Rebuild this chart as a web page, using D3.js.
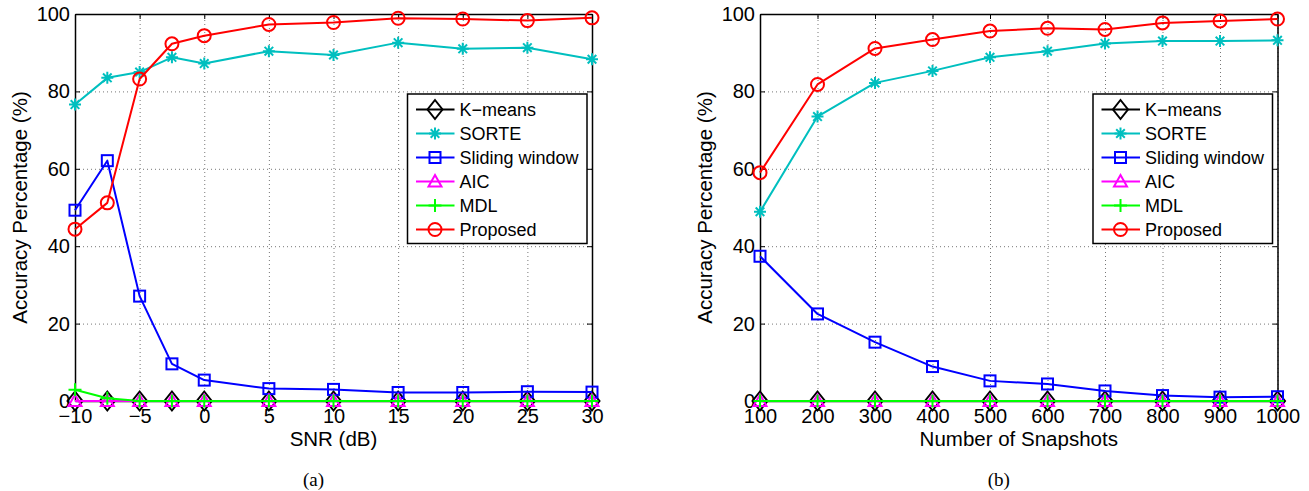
<!DOCTYPE html>
<html>
<head>
<meta charset="utf-8">
<script src="https://cdn.jsdelivr.net/npm/d3@7"></script>
<style>
  html, body { margin: 0; padding: 0; background: #fff; }
  svg { display: block; }
  text { font-family: "Liberation Sans", Arial, Helvetica, sans-serif; fill: #000; }
</style>
</head>
<body>
<svg id="chart" width="1309" height="491"></svg>
<script>
// ---- data ----
const methods = ["K\u2212means", "SORTE", "Sliding window", "AIC", "MDL", "Proposed"];

// (a) accuracy vs SNR
const snrValues = [-10, -7.5, -5, -2.5, 0, 5, 10, 15, 20, 25, 30];
const snrTicks = [-10, -5, 0, 5, 10, 15, 20, 25, 30];
const kmeansSnr   = [0, 0, 0, 0, 0, 0, 0, 0, 0, 0, 0];
const sorteSnr    = [76.6, 83.5, 85.0, 88.8, 87.2, 90.4, 89.4, 92.6, 91.0, 91.3, 88.3];
const slidingSnr  = [49.3, 62.1, 27.1, 9.6, 5.4, 3.2, 3.0, 2.2, 2.2, 2.4, 2.3];
const aicSnr      = [0, 0, 0, 0, 0, 0, 0, 0, 0, 0, 0];
const mdlSnr      = [2.9, 0.7, 0, 0, 0, 0, 0, 0, 0, 0, 0];
const proposedSnr = [44.4, 51.2, 83.2, 92.3, 94.4, 97.3, 97.8, 98.9, 98.7, 98.3, 99.0];

// (b) accuracy vs number of snapshots
const snapshotValues = [100, 200, 300, 400, 500, 600, 700, 800, 900, 1000];
const snapshotTicks = [100, 200, 300, 400, 500, 600, 700, 800, 900, 1000];
const kmeansSnap   = [0, 0, 0, 0, 0, 0, 0, 0, 0, 0];
const sorteSnap    = [48.9, 73.5, 82.2, 85.3, 88.8, 90.4, 92.4, 93.0, 93.0, 93.2];
const slidingSnap  = [37.4, 22.5, 15.2, 8.9, 5.2, 4.4, 2.6, 1.4, 1.0, 1.1];
const aicSnap      = [0, 0, 0, 0, 0, 0, 0, 0, 0, 0];
const mdlSnap      = [0, 0, 0, 0, 0, 0, 0, 0, 0, 0];
const proposedSnap = [59.0, 81.8, 91.1, 93.4, 95.6, 96.3, 96.0, 97.7, 98.2, 98.7];

const yTicks = [0, 20, 40, 60, 80, 100];

// ---- styling ----
const colors = ["#000000", "#00bfbf", "#0000ff", "#ff00ff", "#00ff00", "#ff0000"];
const markers = ["diamond", "asterisk", "square", "triangle", "plus", "circle"];

const svg = d3.select("#chart");
const fmtTick = d => d < 0 ? "\u2212" + Math.abs(d) : String(d);

function drawMarker(g, type, color) {
  let el;
  if (type === "diamond") {
    el = g.append("path").attr("d", "M0,-9.5L7.5,0L0,9.5L-7.5,0Z");
  } else if (type === "asterisk") {
    el = g.append("path").attr("d", "M0,-6V6M-6,0H6M-4.3,-4.3L4.3,4.3M-4.3,4.3L4.3,-4.3");
  } else if (type === "square") {
    el = g.append("rect").attr("x", -5.5).attr("y", -5.5).attr("width", 11).attr("height", 11);
  } else if (type === "triangle") {
    el = g.append("path").attr("d", "M0,-6.5L6.5,5L-6.5,5Z");
  } else if (type === "plus") {
    el = g.append("path").attr("d", "M0,-6.5V6.5M-6.5,0H6.5");
  } else {
    el = g.append("circle").attr("r", 6.5);
  }
  el.attr("fill", "none").attr("stroke", color).attr("stroke-width", 2);
}

function panel(opts) {
  const { x0, x1, xDomain, xs, xTicks, series, xLabel, caption } = opts;
  const yTop = 14, yBot = 401;
  const x = d3.scaleLinear().domain(xDomain).range([x0, x1]);
  const y = d3.scaleLinear().domain([0, 100]).range([yBot, yTop]);
  const g = svg.append("g");

  // dotted grid
  const grid = g.append("g").attr("class", "grid");
  grid.append("g").attr("transform", `translate(0,${yBot})`)
    .call(d3.axisBottom(x).tickValues(xTicks).tickSize(-(yBot - yTop)).tickFormat(""));
  grid.append("g").attr("transform", `translate(${x0},0)`)
    .call(d3.axisLeft(y).tickValues(yTicks).tickSize(-(x1 - x0)).tickFormat(""));
  grid.selectAll(".domain").remove();
  grid.selectAll("line").attr("stroke", "#777").attr("stroke-width", 1).attr("stroke-dasharray", "1,3");

  // axes with inward ticks on all four sides
  const axB = g.append("g").attr("transform", `translate(0,${yBot})`)
    .call(d3.axisBottom(x).tickValues(xTicks).tickSizeInner(-5).tickSizeOuter(0).tickPadding(8).tickFormat(fmtTick));
  const axT = g.append("g").attr("transform", `translate(0,${yTop})`)
    .call(d3.axisTop(x).tickValues(xTicks).tickSizeInner(-5).tickSizeOuter(0).tickFormat(""));
  const axL = g.append("g").attr("transform", `translate(${x0},0)`)
    .call(d3.axisLeft(y).tickValues(yTicks).tickSizeInner(-5).tickSizeOuter(0).tickPadding(5).tickFormat(fmtTick));
  const axR = g.append("g").attr("transform", `translate(${x1},0)`)
    .call(d3.axisRight(y).tickValues(yTicks).tickSizeInner(-5).tickSizeOuter(0).tickFormat(""));
  [axB, axT, axL, axR].forEach(a => {
    a.selectAll(".domain").attr("stroke", "#000").attr("stroke-width", 1.5);
    a.selectAll(".tick line").attr("stroke", "#000").attr("stroke-width", 1);
    a.selectAll("text").attr("font-size", 20).attr("font-family", "Liberation Sans, Arial, sans-serif");
  });

  // series lines and markers
  const line = d3.line().x((d, i) => x(xs[i])).y(d => y(d));
  series.forEach((vals, k) => {
    const sg = g.append("g");
    sg.append("path").datum(vals).attr("d", line)
      .attr("fill", "none").attr("stroke", colors[k]).attr("stroke-width", 2).attr("stroke-linejoin", "round");
    vals.forEach((v, i) => {
      const mg = sg.append("g").attr("transform", `translate(${x(xs[i])},${y(v)})`);
      drawMarker(mg, markers[k], colors[k]);
    });
  });

  // legend
  const lw = 179.5, lh = 149.5;
  const lx = x1 - 5 - lw, ly = 94;
  const lg = g.append("g").attr("transform", `translate(${lx},${ly})`);
  lg.append("rect").attr("width", lw).attr("height", lh)
    .attr("fill", "#fff").attr("stroke", "#000").attr("stroke-width", 1.5);
  methods.forEach((name, k) => {
    const cy = 15.5 + k * 24;
    lg.append("line").attr("x1", 8.5).attr("x2", 47).attr("y1", cy).attr("y2", cy)
      .attr("stroke", colors[k]).attr("stroke-width", 2);
    const mg = lg.append("g").attr("transform", `translate(27.5,${cy})`);
    drawMarker(mg, markers[k], colors[k]);
    lg.append("text").attr("x", 52).attr("y", cy).attr("dy", "0.35em")
      .attr("font-size", 18).text(name);
  });

  // axis titles
  const cx = (x0 + x1) / 2;
  g.append("text").attr("x", cx).attr("y", 446).attr("text-anchor", "middle")
    .attr("font-size", 20.5).text(xLabel);
  g.append("text").attr("transform", `translate(${x0 - 48},${(yTop + yBot) / 2}) rotate(-90)`)
    .attr("text-anchor", "middle").attr("font-size", 20.5).text("Accuracy Percentage (%)");
  g.append("text").attr("x", cx - 20).attr("y", 486).attr("text-anchor", "middle")
    .attr("font-size", 19).style("font-family", "Liberation Serif, Times New Roman, serif").text(caption);
}

panel({
  x0: 75, x1: 592, xDomain: [-10, 30], xs: snrValues, xTicks: snrTicks,
  series: [kmeansSnr, sorteSnr, slidingSnr, aicSnr, mdlSnr, proposedSnr],
  xLabel: "SNR (dB)", caption: "(a)"
});
panel({
  x0: 760, x1: 1277.5, xDomain: [100, 1000], xs: snapshotValues, xTicks: snapshotTicks,
  series: [kmeansSnap, sorteSnap, slidingSnap, aicSnap, mdlSnap, proposedSnap],
  xLabel: "Number of Snapshots", caption: "(b)"
});
</script>
</body>
</html>
